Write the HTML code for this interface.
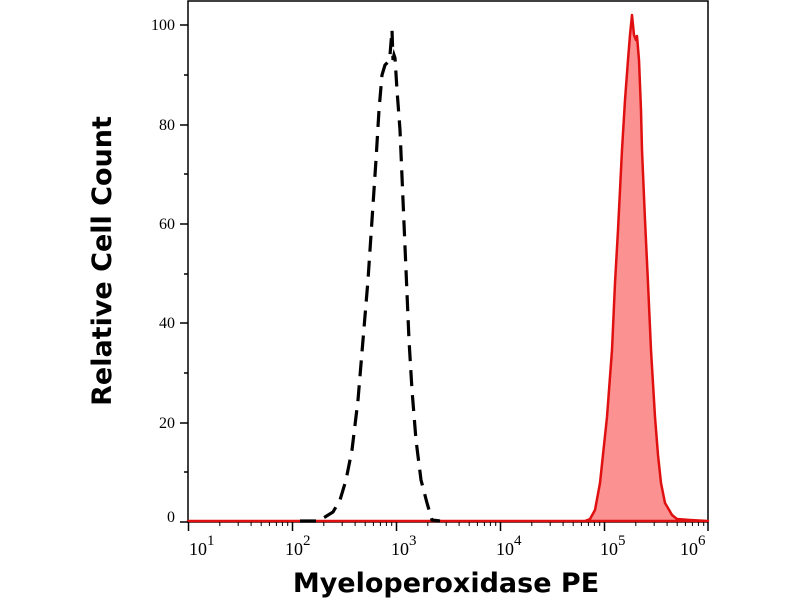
<!DOCTYPE html>
<html><head><meta charset="utf-8"><style>body{margin:0;background:#fff}svg{display:block}</style></head><body>
<svg width="800" height="600" viewBox="0 0 800 600" xmlns="http://www.w3.org/2000/svg">
<rect x="188" y="1" width="520" height="521" fill="none" stroke="#000" stroke-width="1.5"/>
<path d="M188,521 L585,521 L590,519 L595,510 L600,483 L607,417 L612,350 L615,283 L618,230 L622,150 L625,100 L628,60 L630,35 L632,15 L634,35 L636,40 L637,36 L639,60 L641,110 L642,150 L645,220 L648,283 L651,350 L655,417 L658,455 L661,483 L665,503 L668,508 L672,515 L677,519 L690,520 L708,521 Z" fill="#fb9191" stroke="#e01010" stroke-width="2.5" stroke-linejoin="round"/>
<path d="M300,521 L318,521 L325,517 L333,512 L340,500 L346,480 L352,450 L358,400 L363,340 L368,280 L372,220 L376,160 L379,110 L382,75 L385,65 L388,62 L390,55 L392,30 L393,60 L394,55 L395,58 L397,90 L400,130 L403,200 L406,270 L409,340 L412,390 L416,440 L421,480 L427,503 L432,520 L440,521" fill="none" stroke="#000" stroke-width="3.2" stroke-dasharray="16,9"/>
<g stroke="#000" stroke-width="1.5">
<line x1="180" y1="522" x2="188" y2="522"/><line x1="180" y1="423" x2="188" y2="423"/><line x1="180" y1="323" x2="188" y2="323"/><line x1="180" y1="224" x2="188" y2="224"/><line x1="180" y1="125" x2="188" y2="125"/><line x1="180" y1="25" x2="188" y2="25"/>
<line x1="184" y1="472" x2="188" y2="472"/><line x1="184" y1="373" x2="188" y2="373"/><line x1="184" y1="274" x2="188" y2="274"/><line x1="184" y1="174" x2="188" y2="174"/><line x1="184" y1="75" x2="188" y2="75"/>
</g>
<g stroke="#000" stroke-width="1.5">
<line x1="188.5" y1="522" x2="188.5" y2="531"/><line x1="292.5" y1="522" x2="292.5" y2="531"/><line x1="396.5" y1="522" x2="396.5" y2="531"/><line x1="500.5" y1="522" x2="500.5" y2="531"/><line x1="604.5" y1="522" x2="604.5" y2="531"/><line x1="708" y1="522" x2="708" y2="531"/>
</g>
<g stroke="#000" stroke-width="1">
<path d="M219.8,522v4M238.2,522v4M251.1,522v4M261.2,522v4M269.4,522v4M276.4,522v4M282.4,522v4M287.7,522v4
M323.8,522v4M342.2,522v4M355.1,522v4M365.2,522v4M373.4,522v4M380.4,522v4M386.4,522v4M391.7,522v4
M427.8,522v4M446.2,522v4M459.1,522v4M469.2,522v4M477.4,522v4M484.4,522v4M490.4,522v4M495.7,522v4
M531.8,522v4M550.2,522v4M563.1,522v4M573.2,522v4M581.4,522v4M588.4,522v4M594.4,522v4M599.7,522v4
M635.8,522v4M654.2,522v4M667.1,522v4M677.2,522v4M685.4,522v4M692.4,522v4M698.4,522v4M703.7,522v4"/>
</g>
<g font-family="Liberation Serif, serif" font-size="16" fill="#000" text-anchor="end">
<text x="175" y="522">0</text><text x="175" y="428">20</text><text x="175" y="328">40</text><text x="175" y="229">60</text><text x="175" y="130">80</text><text x="175" y="30">100</text>
</g>
<g font-family="Liberation Serif, serif" font-size="18" fill="#000">
<text x="189" y="555">10</text><text x="207" y="545" font-size="15">1</text>
<text x="285" y="555">10</text><text x="303" y="545" font-size="15">2</text>
<text x="391" y="555">10</text><text x="409" y="545" font-size="15">3</text>
<text x="496" y="555">10</text><text x="514" y="545" font-size="15">4</text>
<text x="600" y="555">10</text><text x="618" y="545" font-size="15">5</text>
<text x="680" y="555">10</text><text x="698" y="545" font-size="15">6</text>
</g>
<text x="446" y="592" font-family="DejaVu Sans, sans-serif" font-weight="bold" font-size="27" text-anchor="middle">Myeloperoxidase PE</text>
<text transform="translate(111,261) rotate(-90)" font-family="DejaVu Sans, sans-serif" font-weight="bold" font-size="27" text-anchor="middle">Relative Cell Count</text>
</svg>
</body></html>
